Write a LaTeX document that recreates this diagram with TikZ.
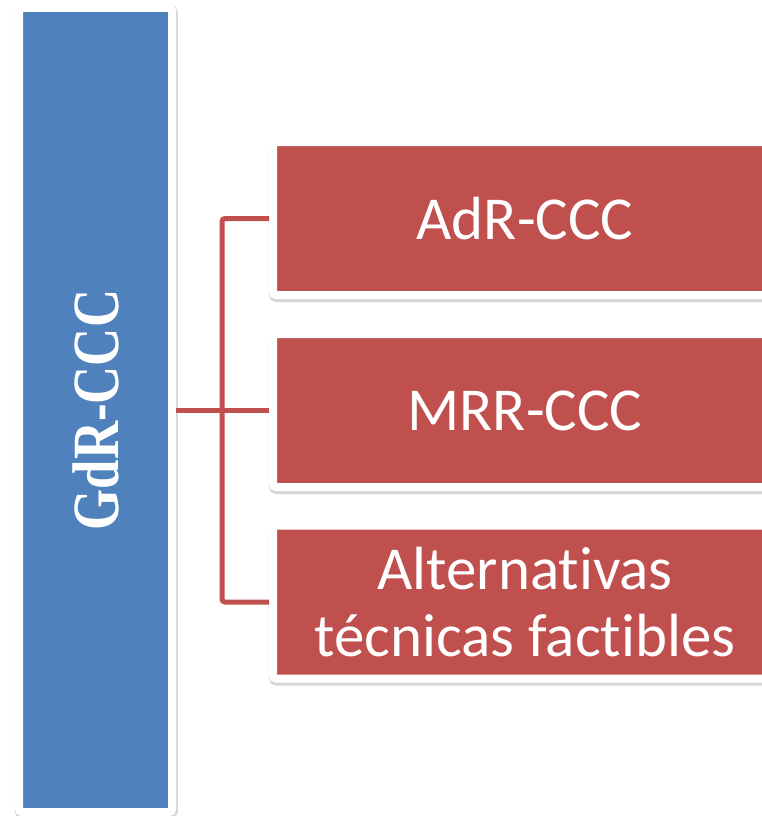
\documentclass[tikz,border=0pt]{standalone}
\usepackage{fontspec}
\setmainfont{Carlito}[Ligatures=NoCommon]
\newfontfamily\headfont{Liberation Serif}
\usetikzlibrary{shadows}
\definecolor{gdrblue}{HTML}{4F81BD}
\definecolor{ccred}{HTML}{C0504D}
\begin{document}
\begin{tikzpicture}[x=1pt,y=-1pt,
  framebox/.style={draw=white, line width=8pt, rounded corners=3pt,
    drop shadow={opacity=0.22, fill=black!70, draw=black!70, line width=10pt,
      shadow xshift=0.8pt, shadow yshift=-2pt}},
  leafbox/.style={framebox, fill=ccred, minimum width=504pt, minimum height=153pt,
    text=white, align=center, font=\fontsize{61}{67}\selectfont},
  branch/.style={draw=ccred, line width=5pt, rounded corners=3pt}]
\fill[white] (0,0) rectangle (762,816);
\useasboundingbox (0,0) rectangle (762,816);
%ROOT
\node[framebox, fill=gdrblue, minimum width=153pt, minimum height=804pt] (gdr) at (95.5,410) {};
\node[rotate=90, text=white, font=\headfont\bfseries\fontsize{66}{70}\selectfont] (gdrlabel) at (gdr.center) {\scalebox{0.8}[1]{GdR-CCC}};
%LEAVES
\node[leafbox] (adr) at (525,218.5) {AdR-CCC};
\node[leafbox] (mrr) at (525,410.5) {MRR-CCC};
\node[leafbox] (alt) at (525,602) {Alternativas\\técnicas factibles};
% Connectors
\coordinate (spine) at (222,410.5);
\draw[branch] (gdr.east |- mrr.west) -- (mrr.west);
\draw[branch] (adr.west) -| (spine) |- (alt.west);
\end{tikzpicture}
\end{document}
